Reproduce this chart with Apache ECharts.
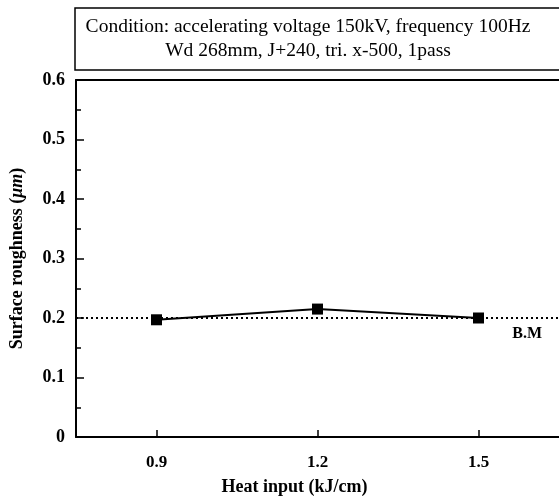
<!DOCTYPE html>
<html>
	<head>
		<meta charset="UTF-8">
		<title>Surface roughness</title>
		<style>
			html, body { margin: 0; padding: 0; background: #fff; }
			#chart { width: 559px; height: 501px; }
		</style>
	</head>
	<body>
		<div id="chart"></div>
		<script type="text/javascript" src="https://cdn.jsdelivr.net/npm/echarts@6/dist/echarts.min.js"></script>
		<script type="text/javascript">
			// data
			var heatInput = [0.9, 1.2, 1.5];
			var roughness = [0.197, 0.215, 0.2];
			var baseMetal = 0.2;
			var xTicks = [0.9, 1.2, 1.5];
			var conditionLines = [
				'Condition: accelerating voltage 150kV, frequency 100Hz',
				'Wd 268mm, J+240, tri. x-500, 1pass'
			];

			var serif = '"Liberation Serif", "DejaVu Serif", serif';
			var myChart = echarts.init(document.getElementById('chart'));

			var points = [];
			for (var i = 0; i < heatInput.length; i++) {
				points.push([heatInput[i], roughness[i]]);
			}

			var option = {
				animation: false,
				backgroundColor: '#fff',
				grid: {
					left: 75,
					top: 80,
					right: 0,
					bottom: 54
				},
				graphic: [
					{
						type: 'rect',
						shape: { x: 75, y: 8, width: 500, height: 62 },
						style: { fill: '#fff', stroke: '#000', lineWidth: 1.5 }
					},
					{
						type: 'text',
						x: 308,
						y: 27,
						style: {
							text: conditionLines[0],
							font: '19.5px ' + serif,
							fill: '#000',
							align: 'center',
							verticalAlign: 'middle'
						}
					},
					{
						type: 'text',
						x: 308,
						y: 51,
						style: {
							text: conditionLines[1],
							font: '19.5px ' + serif,
							fill: '#000',
							align: 'center',
							verticalAlign: 'middle'
						}
					}
				],
				xAxis: [
					{
						type: 'value',
						min: 0.75,
						max: 1.65,
						name: 'Heat input (kJ/cm)',
						nameLocation: 'middle',
						nameGap: 41,
						nameTextStyle: {
							fontFamily: serif,
							fontWeight: 'bold',
							fontSize: 18,
							color: '#000',
							padding: [0, 46, 0, 0]
						},
						splitLine: { show: false },
						axisLine: { lineStyle: { color: '#000', width: 2 } },
						axisTick: {
							inside: true,
							length: 7,
							customValues: xTicks,
							lineStyle: { color: '#000', width: 1.5 }
						},
						axisLabel: {
							customValues: xTicks,
							margin: 17,
							fontFamily: serif,
							fontWeight: 'bold',
							fontSize: 17,
							color: '#000',
							formatter: function (v) { return v.toFixed(1); }
						}
					},
					{
						// top frame line only
						type: 'value',
						position: 'top',
						min: 0.75,
						max: 1.65,
						splitLine: { show: false },
						axisLine: { show: true, onZero: false, lineStyle: { color: '#000', width: 2 } },
						axisTick: { show: false },
						axisLabel: { show: false }
					}
				],
				yAxis: {
					type: 'value',
					min: 0,
					max: 0.6,
					interval: 0.1,
					name: '{b|Surface roughness (}{i|μm}{b|)}',
					nameLocation: 'middle',
					nameGap: 50,
					nameTextStyle: {
						rich: {
							b: { fontFamily: serif, fontWeight: 'bold', fontSize: 18, color: '#000' },
							i: { fontFamily: serif, fontWeight: 'bold', fontStyle: 'italic', fontSize: 18, color: '#000' }
						}
					},
					splitLine: { show: false },
					axisLine: { show: true, lineStyle: { color: '#000', width: 2 } },
					axisTick: {
						show: true,
						inside: true,
						length: 8,
						lineStyle: { color: '#000', width: 1.5 }
					},
					minorTick: {
						show: true,
						splitNumber: 2,
						length: 5,
						lineStyle: { color: '#000', width: 1.5 }
					},
					axisLabel: {
						margin: 11,
						fontFamily: serif,
						fontWeight: 'bold',
						fontSize: 18,
						color: '#000',
						formatter: function (v) { return v === 0 ? '0' : v.toFixed(1); }
					}
				},
				series: [
					{
						name: 'Surface roughness',
						type: 'line',
						data: points,
						symbol: 'rect',
						symbolSize: 11,
						lineStyle: { color: '#000', width: 2 },
						itemStyle: { color: '#000' },
						markLine: {
							silent: true,
							symbol: ['none', 'none'],
							lineStyle: { color: '#000', type: [2, 3], width: 2 },
							label: {
								show: true,
								position: 'insideEndBottom',
								distance: [17, 8],
								formatter: 'B.M',
								fontFamily: serif,
								fontWeight: 'bold',
								fontSize: 16,
								color: '#000'
							},
							data: [{ yAxis: baseMetal }]
						}
					}
				]
			};

			myChart.setOption(option);
		</script>
	</body>
</html>
